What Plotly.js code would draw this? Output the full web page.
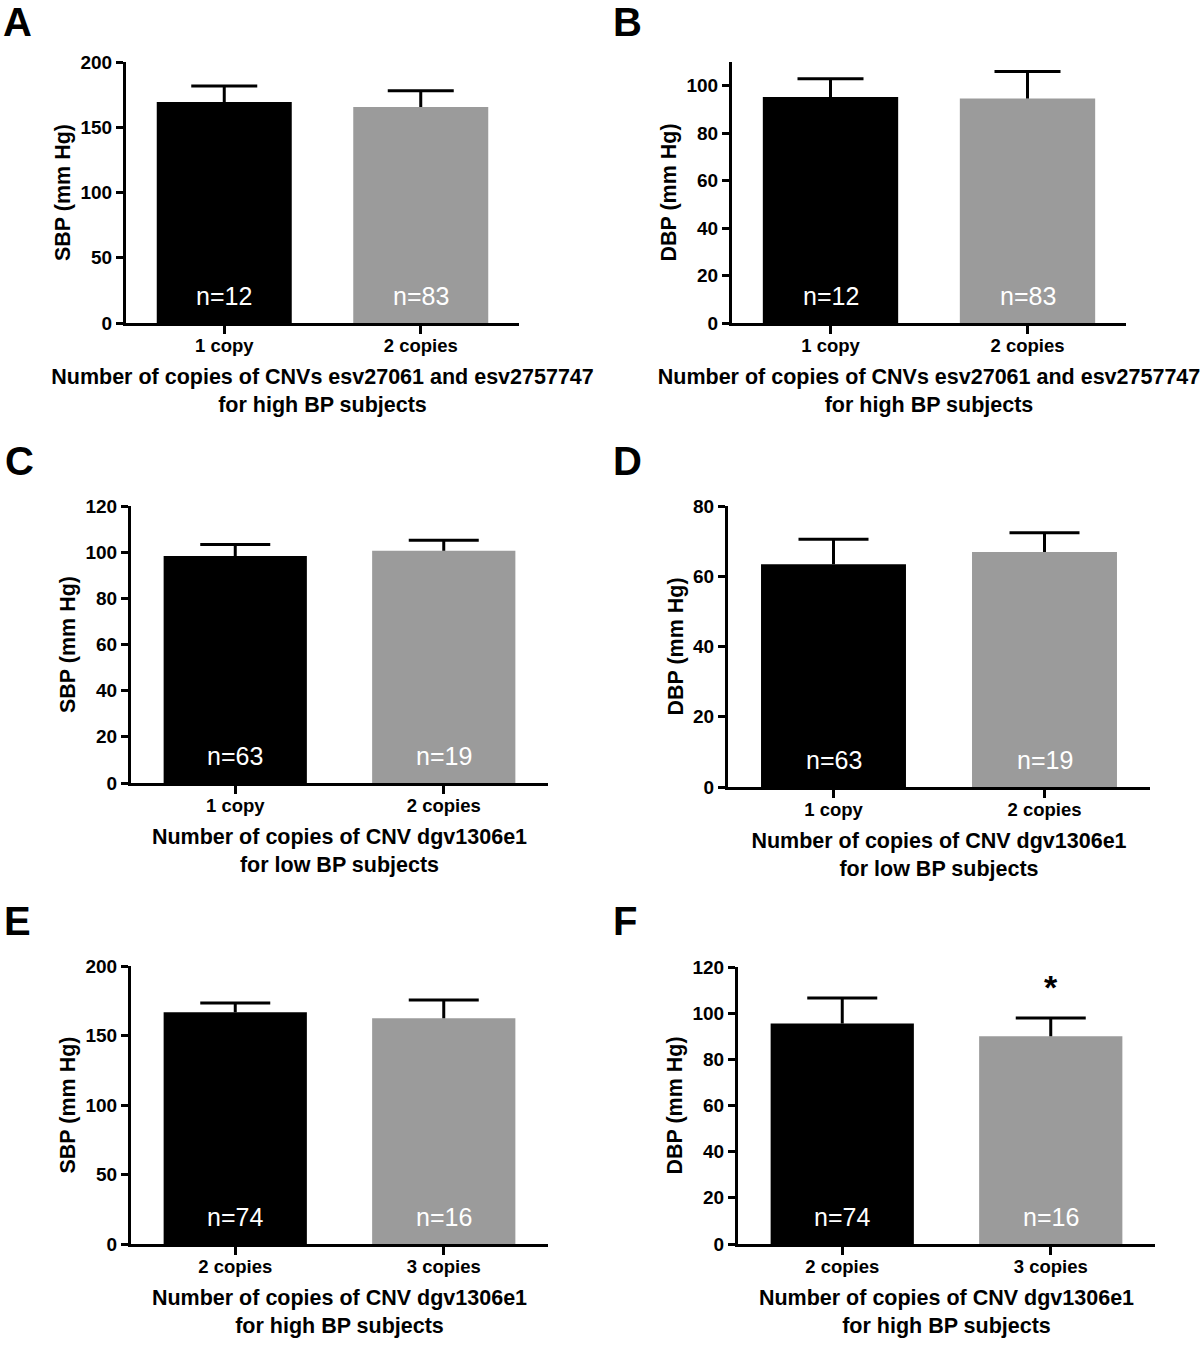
<!DOCTYPE html>
<html>
<head>
<meta charset="utf-8">
<script src="https://cdn.plot.ly/plotly-3.0.1.min.js"></script>
<style>
  html, body { margin: 0; padding: 0; background: #ffffff; }
  #chart { width: 1200px; height: 1347px; }
</style>
</head>
<body>
<div id="chart"></div>
<script>
// ---------------- DATA ----------------
const catsOneTwo = ['1 copy', '2 copies'];
const catsTwoThree = ['2 copies', '3 copies'];

const sbpA = [169.3, 165.5];
const sbpAErr = [12.3, 12.4];
const nA = ['n=12', 'n=83'];

const dbpB = [95.2, 94.6];
const dbpBErr = [7.7, 11.4];
const nB = ['n=12', 'n=83'];

const sbpC = [98.3, 100.6];
const sbpCErr = [5.0, 4.6];
const nC = ['n=63', 'n=19'];

const dbpD = [63.4, 66.9];
const dbpDErr = [7.1, 5.5];
const nD = ['n=63', 'n=19'];

const sbpE = [166.7, 162.4];
const sbpEErr = [6.7, 13.2];
const nE = ['n=74', 'n=16'];

const dbpF = [95.5, 90.0];
const dbpFErr = [11.1, 7.9];
const nF = ['n=74', 'n=16'];

const xTitleAB = 'Number of copies of CNVs esv27061 and esv2757747<br>for high BP subjects';
const xTitleCD = 'Number of copies of CNV dgv1306e1<br>for low BP subjects';
const xTitleEF = 'Number of copies of CNV dgv1306e1<br>for high BP subjects';

const yTickAE = [0, 50, 100, 150, 200];
const yTickB = [0, 20, 40, 60, 80, 100];
const yTickCF = [0, 20, 40, 60, 80, 100, 120];
const yTickD = [0, 20, 40, 60, 80];

const significance = {panel: 'F', index: 1, mark: '*'};

// ---------------- LAYOUT CONFIG ----------------
const W = 1200, H = 1347;
const FONT = 'Liberation Sans, Arial, Helvetica, sans-serif';
const barColors = ['#000000', '#9b9b9b'];

// box: [left, right, top, bottom] in px of the plotting area
const panels = [
  {letter: 'A', cats: catsOneTwo, vals: sbpA, errs: sbpAErr, ns: nA, ytitle: 'SBP (mm Hg)', xtitle: xTitleAB,
   range: [0, 200], ticks: yTickAE, box: [126, 519, 62, 323], cap: 33, letterXY: [1, -2]},
  {letter: 'B', cats: catsOneTwo, vals: dbpB, errs: dbpBErr, ns: nB, ytitle: 'DBP (mm Hg)', xtitle: xTitleAB,
   range: [0, 110], ticks: yTickB, box: [732, 1126, 62, 323], cap: 33, letterXY: [611, -2]},
  {letter: 'C', cats: catsOneTwo, vals: sbpC, errs: sbpCErr, ns: nC, ytitle: 'SBP (mm Hg)', xtitle: xTitleCD,
   range: [0, 120], ticks: yTickCF, box: [131, 548, 506, 783], cap: 35, letterXY: [3, 437]},
  {letter: 'D', cats: catsOneTwo, vals: dbpD, errs: dbpDErr, ns: nD, ytitle: 'DBP (mm Hg)', xtitle: xTitleCD,
   range: [0, 80], ticks: yTickD, box: [728, 1150, 506, 787], cap: 35, letterXY: [611, 437]},
  {letter: 'E', cats: catsTwoThree, vals: sbpE, errs: sbpEErr, ns: nE, ytitle: 'SBP (mm Hg)', xtitle: xTitleEF,
   range: [0, 200], ticks: yTickAE, box: [131, 548, 966, 1244], cap: 35, letterXY: [2, 897]},
  {letter: 'F', cats: catsTwoThree, vals: dbpF, errs: dbpFErr, ns: nF, ytitle: 'DBP (mm Hg)', xtitle: xTitleEF,
   range: [0, 120], ticks: yTickCF, box: [738, 1155, 967, 1244], cap: 35, letterXY: [611, 897]}
];

const traces = [];
const layout = {
  width: W, height: H,
  margin: {l: 0, r: 0, t: 0, b: 0},
  paper_bgcolor: '#ffffff', plot_bgcolor: 'rgba(0,0,0,0)',
  showlegend: false,
  bargap: 0.313,
  font: {family: FONT, color: '#000000'},
  annotations: []
};

panels.forEach((p, i) => {
  const k = i === 0 ? '' : String(i + 1);
  const xa = 'x' + k, ya = 'y' + k;
  const [l, r, t, b] = p.box;

  // bars
  traces.push({
    type: 'bar', x: p.cats, y: p.vals, xaxis: xa, yaxis: ya,
    marker: {color: barColors, line: {width: 0}},
    hoverinfo: 'x+y'
  });

  // upper-only error bars (Prism style): cap marker at mean+SD, stem down to the mean
  traces.push({
    type: 'scatter', mode: 'markers', x: p.cats,
    y: p.vals.map((v, j) => v + p.errs[j]), xaxis: xa, yaxis: ya,
    marker: {symbol: 'line-ew', size: 2 * p.cap / 1.4, color: '#000000',
             line: {color: '#000000', width: 3}},
    error_y: {type: 'data', symmetric: false, array: p.errs.map(() => 0), arrayminus: p.errs,
              color: '#000000', thickness: 3, width: 0},
    cliponaxis: false, hoverinfo: 'skip'
  });

  layout['xaxis' + k] = {
    domain: [l / W, r / W], anchor: ya, type: 'category', range: [-0.5, 1.5],
    showline: true, linewidth: 3, linecolor: '#000000', mirror: false,
    ticks: 'outside', ticklen: 8, tickwidth: 3, tickcolor: '#000000',
    ticklabelstandoff: -4,
    showgrid: false, zeroline: false, fixedrange: true,
    tickfont: {family: FONT, size: 18.5, weight: 'bold', color: '#000000'},
    title: {text: p.xtitle, font: {family: FONT, size: 21.5, weight: 'bold', color: '#000000'}, standoff: 14}
  };
  layout['yaxis' + k] = {
    domain: [1 - b / H, 1 - t / H], anchor: xa, range: p.range, tickvals: p.ticks,
    showline: true, linewidth: 3, linecolor: '#000000', mirror: false,
    ticks: 'outside', ticklen: 7, tickwidth: 3, tickcolor: '#000000',
    showgrid: false, zeroline: false, fixedrange: true,
    tickfont: {family: FONT, size: 19, weight: 'bold', color: '#000000'},
    title: {text: p.ytitle, font: {family: FONT, size: 21.5, weight: 'bold', color: '#000000'}, standoff: 4}
  };

  // n labels inside bars
  p.ns.forEach((txt, j) => {
    layout.annotations.push({
      xref: xa, yref: ya, x: p.cats[j], y: 0, yanchor: 'middle', yshift: 27,
      text: txt, showarrow: false,
      font: {family: FONT, size: 25, color: '#ffffff'}
    });
  });

  // panel letter
  layout.annotations.push({
    xref: 'paper', yref: 'paper', x: p.letterXY[0] / W, y: 1 - p.letterXY[1] / H,
    xanchor: 'left', yanchor: 'top', text: p.letter, showarrow: false,
    font: {family: FONT, size: 40, weight: 'bold', color: '#000000'}
  });

  if (significance.panel === p.letter) {
    const j = significance.index;
    layout.annotations.push({
      xref: xa, yref: ya, x: p.cats[j], y: p.vals[j] + p.errs[j], yanchor: 'middle', yshift: 31,
      text: significance.mark, showarrow: false,
      font: {family: FONT, size: 34, weight: 'bold', color: '#000000'}
    });
  }
});

Plotly.newPlot('chart', traces, layout, {displayModeBar: false, staticPlot: true});
</script>
</body>
</html>
